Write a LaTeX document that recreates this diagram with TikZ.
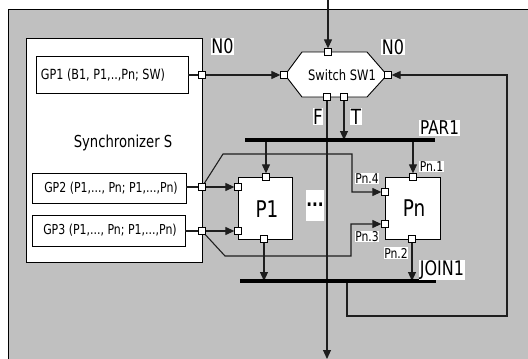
\documentclass[tikz,border=0pt]{standalone}
\usepackage{fontspec}
\setmainfont{DejaVu Sans}[FakeStretch=0.8]
\usetikzlibrary{arrows.meta}
\definecolor{bg}{RGB}{192,192,192}
\definecolor{ln}{RGB}{30,30,30}
\newcommand{\fs}[1]{\fontsize{#1}{#1}\selectfont}
\begin{document}
\begin{tikzpicture}[x=1pt,y=-1pt,
  wire/.style={draw=ln,line width=1.1pt},
  arr/.style={wire,-{Triangle[length=9pt,width=8pt]}},
  port/.style={draw=black,fill=white,line width=0.8pt,minimum size=6.5pt,inner sep=0pt,rectangle},
  blk/.style={draw=black,fill=white,line width=0.9pt,inner sep=0pt,rectangle},
  lab/.style={fill=white,inner sep=0.6pt},
  bar/.style={line width=3.5pt,black}]
\useasboundingbox (0,0) rectangle (528,359);
\fill[white] (0,0) rectangle (528,359);
\fill[bg] (8,9) rectangle (528,359);
\draw[line width=1pt] (8,359) -- (8,9) -- (528,9);

% Synchronizer
\node[blk,minimum width=176pt,minimum height=224pt] (sync) at (114,150) {};
\node (synct) at (123,143) {\fs{16.5}Synchronizer S};
\node[blk,minimum width=152pt,minimum height=37pt] (gp1) at (112,74.5) {};
\node (gp1t) at (103,75) {\fs{14}GP1 (B1, P1,..,Pn; SW)};
\node[blk,minimum width=154pt,minimum height=30pt] (gp2) at (109,188) {};
\node (gp2t) at (111,188) {\fs{13.7}GP2 (P1,..., Pn; P1,...,Pn)};
\node[blk,minimum width=153pt,minimum height=31pt] (gp3) at (108.5,230.5) {};
\node (gp3t) at (110,230.5) {\fs{13.7}GP3 (P1,..., Pn; P1,...,Pn)};

% Switch
\filldraw[fill=white,draw=black,line width=0.9pt] (285,75) -- (302,52) -- (367,52) -- (387,75) -- (367,97) -- (302,97) -- cycle;
\node (sw) at (342,75) {\fs{14.4}Switch SW1};

% P1 and Pn
\node[blk,minimum width=54pt,minimum height=62pt] (p1) at (265,208) {};
\node (p1t) at (267,209) {\fs{23}P1};
\node[blk,minimum width=55pt,minimum height=62pt] (pn) at (412.5,208) {};
\node (pnt) at (414,208) {\fs{23}Pn};

% ports
\node[port] (gp1p) at (202,75) {};
\node[port] (gp2p) at (202,187) {};
\node[port] (gp3p) at (202,231) {};
\node[port] (swt) at (328,52) {};
\node[port] (swl) at (284,75) {};
\node[port] (swr) at (388,75) {};
\node[port] (swf) at (327,97) {};
\node[port] (swtr) at (344,97) {};
\node[port] (p1t1) at (266,177) {};
\node[port] (p1l1) at (238,187) {};
\node[port] (p1l2) at (238,231) {};
\node[port] (p1b) at (264,239) {};
\node[port] (pn1) at (413,177) {};
\node[port] (pn4) at (385,192) {};
\node[port] (pn3) at (385,224) {};
\node[port] (pn2) at (412,239) {};

% coordinates
\coordinate (in) at (328,0);
\coordinate (out) at (327,359);
\coordinate (parL) at (245,140);
\coordinate (parR) at (435,140);
\coordinate (parA) at (266,140);
\coordinate (parB) at (413,140);
\coordinate (parT) at (344,140);
\coordinate (joinL) at (240,281);
\coordinate (joinR) at (436,281);
\coordinate (joinA) at (264,281);
\coordinate (joinB) at (412,281);
\coordinate (fb) at (347,281);
\coordinate (fbc) at (507,316);
\coordinate (g2a) at (223,154);
\coordinate (g2b) at (352,154);
\coordinate (g3a) at (225,256);
\coordinate (g3b) at (351,256);

% wires
\draw[wire] (gp1.east |- gp1p) -- (gp1p);
\draw[wire] (gp2.east |- gp2p) -- (gp2p);
\draw[wire] (gp3.east |- gp3p) -- (gp3p);
\draw[arr] (in) -- (swt);
\draw[arr] (gp1p) -- (swl);
\draw[arr] (swf) -- (out);
\draw[arr] (swtr) -- (parT);
\draw[arr] (parA) -- (p1t1);
\draw[arr] (parB) -- (pn1);
\draw[arr] (gp2p) -- (p1l1);
\draw[arr] (gp3p) -- (p1l2);
\draw[arr] (gp2p) -- (g2a) -- (g2b) |- (pn4);
\draw[arr] (gp3p) -- (g3a) -- (g3b) |- (pn3);
\draw[arr] (p1b) -- (joinA);
\draw[arr] (pn2) -- (joinB);
\draw[arr] (fb) |- (fbc) |- (swr);

% bars
\draw[bar] (parL) -- (parR);
\draw[bar] (joinL) -- (joinR);

% redraw ports on top
\foreach \p in {gp1p,gp2p,gp3p,swt,swl,swr,swf,swtr,p1t1,p1l1,p1l2,p1b,pn1,pn4,pn3,pn2}
  \filldraw[fill=white,draw=black,line width=0.8pt] (\p.south west) rectangle (\p.north east);

% labels
\node[lab] (n0l) at (222.5,46.5) {\fs{20}N0};
\node[lab] (n0r) at (393,47) {\fs{20}N0};
\node[lab] (lf) at (318,116.5) {\fs{21}F};
\node[lab] (lt) at (356,116.5) {\fs{21}T};
\node[lab] (lpar) at (439.5,128) {\fs{19}PAR1};
\node[lab] (ljoin) at (442,270) {\fs{20}JOIN1};
\node[lab] (lpn1) at (431.5,166.5) {\fs{13.5}Pn.1};
\node[lab] (lpn4) at (367,178.5) {\fs{13.5}Pn.4};
\node[lab] (lpn3) at (367,236.7) {\fs{13.5}Pn.3};
\node[lab] (lpn2) at (396,253) {\fs{13.5}Pn.2};
\node[lab,minimum width=17pt,minimum height=31pt] (dots) at (315,205) {\fs{19}\bfseries ...};
\end{tikzpicture}
\end{document}
